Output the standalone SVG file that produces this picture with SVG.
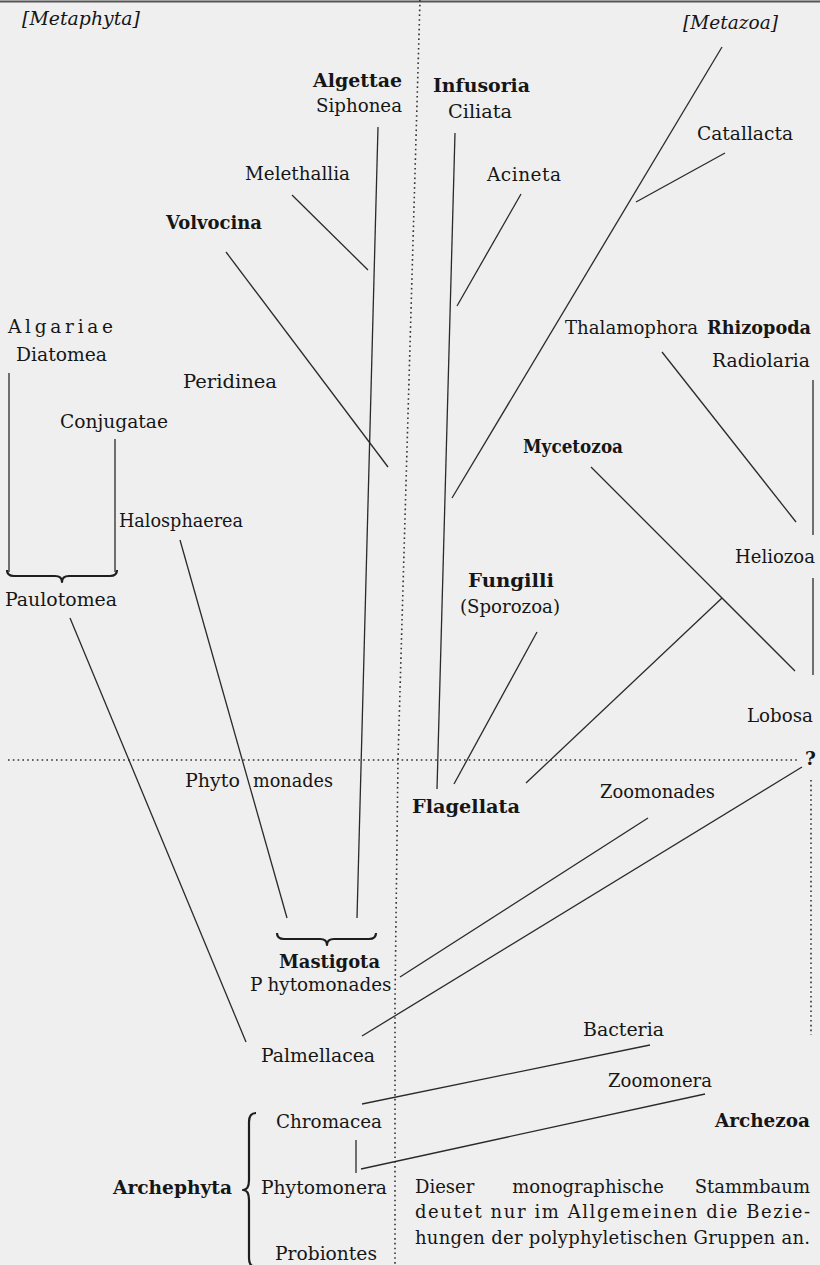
<svg xmlns="http://www.w3.org/2000/svg" width="820" height="1265" viewBox="0 0 820 1265">
<style>
.t{font-family:"DejaVu Serif","Liberation Serif",serif;font-size:18.5px;fill:#161616}
.p{font-size:18px}
.b{font-weight:bold}
.i{font-style:italic}
.ln{stroke:#2a2a2a;stroke-width:1.3;fill:none}
.dot{stroke:#333;stroke-width:1.6;stroke-dasharray:1.6 3.2;fill:none}
.br{stroke:#1e1e1e;stroke-width:2.2;fill:none;stroke-linejoin:round}
</style>
<rect width="820" height="1265" fill="#efefef"/>
<g id="frame">
<line x1="0" y1="1.5" x2="820" y2="1.5" stroke="#555" stroke-width="2"/>
<polyline class="dot" points="420,0 398,760 395,1000 395,1265"/>
<line class="dot" x1="8" y1="760" x2="800" y2="760"/>
<line class="dot" x1="811" y1="780" x2="811" y2="1035"/>
<text class="t b" x="805" y="765" font-size="16">?</text>
</g>
<g id="connectors">
<line class="ln" x1="378" y1="127" x2="357" y2="918"/>
<line class="ln" x1="455" y1="133" x2="437" y2="789"/>
<line class="ln" x1="722" y1="47" x2="452" y2="498"/>
<line class="ln" x1="725" y1="153" x2="636" y2="202"/>
<line class="ln" x1="521" y1="194" x2="457" y2="306"/>
<line class="ln" x1="292" y1="195" x2="368" y2="270"/>
<line class="ln" x1="226" y1="252" x2="388" y2="467"/>
<line class="ln" x1="662" y1="352" x2="796" y2="522"/>
<line class="ln" x1="813" y1="380" x2="813" y2="535"/>
<line class="ln" x1="813" y1="578" x2="813" y2="675"/>
<line class="ln" x1="591" y1="467" x2="795" y2="671"/>
<line class="ln" x1="537" y1="632" x2="454" y2="784"/>
<line class="ln" x1="526" y1="783" x2="722" y2="598"/>
<line class="ln" x1="9" y1="373" x2="9" y2="572"/>
<line class="ln" x1="115" y1="439" x2="115" y2="572"/>
<line class="ln" x1="180" y1="540" x2="287" y2="918"/>
<line class="ln" x1="70" y1="618" x2="246" y2="1042"/>
<line class="ln" x1="400" y1="977" x2="648" y2="818"/>
<line class="ln" x1="362" y1="1036" x2="802" y2="767"/>
<line class="ln" x1="362" y1="1104" x2="650" y2="1045"/>
<line class="ln" x1="356" y1="1140" x2="356" y2="1173"/>
<line class="ln" x1="361" y1="1169" x2="705" y2="1094"/>
<path class="br" d="M7,570 Q7,576 14,576 L55,576 Q62,576 62,582 Q62,576 69,576 L110,576 Q117,576 117,570"/>
<path class="br" d="M277,933 Q277,939 284,939 L320,939 Q327,939 327,945 Q327,939 334,939 L369,939 Q376,939 376,933"/>
<path class="br" d="M256,1113 Q249,1113 249,1122 L249,1180 Q249,1190 243,1190 Q249,1190 249,1200 L249,1258 Q249,1267 256,1267"/>
</g>
<g id="n-metaphyta"><text class="t i" x="22" y="25" textLength="118" lengthAdjust="spacingAndGlyphs">[Metaphyta]</text></g>
<g id="n-metazoa"><text class="t i" x="683" y="29" textLength="95" lengthAdjust="spacingAndGlyphs">[Metazoa]</text></g>
<g id="n-algettae"><text class="t b" x="313" y="87" textLength="89" lengthAdjust="spacingAndGlyphs">Algettae</text><text class="t" x="316" y="112" textLength="86" lengthAdjust="spacingAndGlyphs">Siphonea</text></g>
<g id="n-infusoria"><text class="t b" x="433" y="92" textLength="97" lengthAdjust="spacingAndGlyphs">Infusoria</text><text class="t" x="448" y="118" textLength="64" lengthAdjust="spacingAndGlyphs">Ciliata</text></g>
<g id="n-catallacta"><text class="t" x="697" y="140" textLength="96" lengthAdjust="spacingAndGlyphs">Catallacta</text></g>
<g id="n-acineta"><text class="t" x="487" y="181" textLength="74" lengthAdjust="spacing">Acineta</text></g>
<g id="n-melethallia"><text class="t" x="245" y="180" textLength="105" lengthAdjust="spacingAndGlyphs">Melethallia</text></g>
<g id="n-volvocina"><text class="t b" x="166" y="229" textLength="96" lengthAdjust="spacingAndGlyphs">Volvocina</text></g>
<g id="n-algariae"><text class="t" x="8" y="333" textLength="105" lengthAdjust="spacing">Algariae</text><text class="t" x="16" y="361" textLength="91" lengthAdjust="spacingAndGlyphs">Diatomea</text></g>
<g id="n-peridinea"><text class="t" x="183" y="388" textLength="94" lengthAdjust="spacingAndGlyphs">Peridinea</text></g>
<g id="n-conjugatae"><text class="t" x="60" y="428" textLength="108" lengthAdjust="spacingAndGlyphs">Conjugatae</text></g>
<g id="n-halosphaerea"><text class="t" x="119" y="527" textLength="124" lengthAdjust="spacingAndGlyphs">Halosphaerea</text></g>
<g id="n-paulotomea"><text class="t" x="5" y="606" textLength="112" lengthAdjust="spacingAndGlyphs">Paulotomea</text></g>
<g id="n-rhizopoda"><text class="t" x="565" y="334" textLength="133" lengthAdjust="spacingAndGlyphs">Thalamophora</text><text class="t b" x="707" y="334" textLength="104" lengthAdjust="spacingAndGlyphs">Rhizopoda</text><text class="t" x="712" y="367" textLength="98" lengthAdjust="spacingAndGlyphs">Radiolaria</text></g>
<g id="n-mycetozoa"><text class="t b" x="523" y="453" textLength="100" lengthAdjust="spacingAndGlyphs">Mycetozoa</text></g>
<g id="n-heliozoa"><text class="t" x="735" y="563" textLength="80" lengthAdjust="spacingAndGlyphs">Heliozoa</text></g>
<g id="n-fungilli"><text class="t b" x="468" y="587" textLength="86" lengthAdjust="spacingAndGlyphs">Fungilli</text><text class="t" x="460" y="613" textLength="100" lengthAdjust="spacingAndGlyphs">(Sporozoa)</text></g>
<g id="n-lobosa"><text class="t" x="747" y="722" textLength="66" lengthAdjust="spacingAndGlyphs">Lobosa</text></g>
<g id="n-phytomonades-top"><text class="t" x="185" y="787" textLength="55" lengthAdjust="spacingAndGlyphs">Phyto</text><text class="t" x="253" y="787" textLength="80" lengthAdjust="spacingAndGlyphs">monades</text></g>
<g id="n-flagellata"><text class="t b" x="412" y="813" textLength="108" lengthAdjust="spacingAndGlyphs">Flagellata</text></g>
<g id="n-zoomonades"><text class="t" x="600" y="798" textLength="115" lengthAdjust="spacingAndGlyphs">Zoomonades</text></g>
<g id="n-mastigota"><text class="t b" x="279" y="968" textLength="101" lengthAdjust="spacingAndGlyphs">Mastigota</text><text class="t" x="250" y="991"><tspan>P</tspan><tspan dx="5" textLength="124" lengthAdjust="spacingAndGlyphs">hytomonades</tspan></text></g>
<g id="n-palmellacea"><text class="t" x="261" y="1062" textLength="114" lengthAdjust="spacingAndGlyphs">Palmellacea</text></g>
<g id="n-bacteria"><text class="t" x="583" y="1036" textLength="81" lengthAdjust="spacingAndGlyphs">Bacteria</text></g>
<g id="n-zoomonera"><text class="t" x="608" y="1087" textLength="104" lengthAdjust="spacingAndGlyphs">Zoomonera</text></g>
<g id="n-archezoa"><text class="t b" x="715" y="1127" textLength="95" lengthAdjust="spacingAndGlyphs">Archezoa</text></g>
<g id="n-archephyta"><text class="t b" x="113" y="1194" textLength="119" lengthAdjust="spacingAndGlyphs">Archephyta</text><text class="t" x="276" y="1128" textLength="106" lengthAdjust="spacingAndGlyphs">Chromacea</text><text class="t" x="261" y="1194" textLength="126" lengthAdjust="spacingAndGlyphs">Phytomonera</text><text class="t" x="275" y="1260" textLength="102" lengthAdjust="spacingAndGlyphs">Probiontes</text></g>
<g id="note">
<text class="t p" x="415" y="1193">Dieser</text>
<text class="t p" x="588" y="1193" text-anchor="middle">monographische</text>
<text class="t p" x="810" y="1193" text-anchor="end">Stammbaum</text>
<text class="t p" x="415" y="1218" textLength="395" lengthAdjust="spacing">deutet nur im Allgemeinen die Bezie-</text>
<text class="t p" x="415" y="1244" textLength="395" lengthAdjust="spacing">hungen der polyphyletischen Gruppen an.</text>
</g>
</svg>
